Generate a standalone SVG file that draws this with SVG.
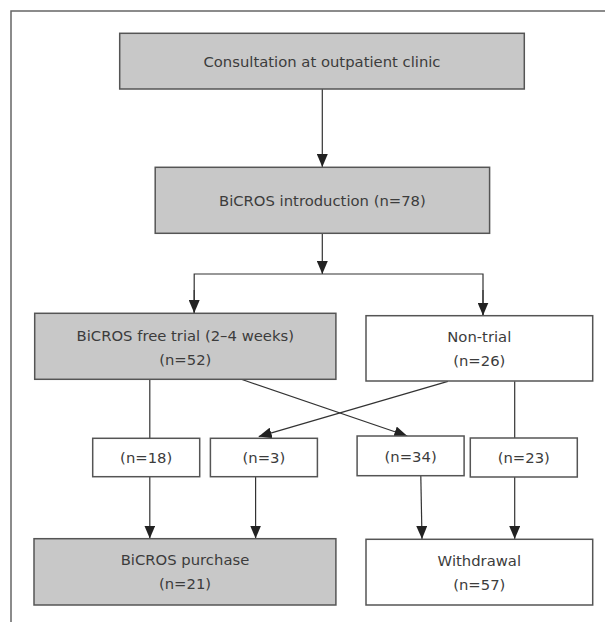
<svg xmlns="http://www.w3.org/2000/svg" width="605" height="622" viewBox="0 0 605 622">
<style>
.box{stroke:#555;stroke-width:1.5}
.g{fill:#c8c8c8}
.w{fill:#fff}
text{font-family:"DejaVu Sans",sans-serif;font-size:14.8px;fill:#3c3c3c;text-anchor:middle}
.c{stroke:#333;stroke-width:1.2;fill:none}
.frame{stroke:#666;stroke-width:1.5;fill:none}
</style>
<defs>
<marker id="ah" viewBox="0 0 13 11" markerUnits="userSpaceOnUse" markerWidth="13" markerHeight="11" refX="13" refY="5.5" orient="auto">
<path d="M0,0 L13,5.5 L0,11 z" fill="#222"/>
</marker>
</defs>
<rect width="605" height="622" fill="#fff"/>
<path class="frame" d="M11,622 V11 H605"/>
<g id="connectors">
<line class="c" x1="322.3" y1="89" x2="322.3" y2="167" marker-end="url(#ah)"/>
<line class="c" x1="322.3" y1="233.5" x2="322.3" y2="274" marker-end="url(#ah)"/>
<path class="c" d="M194.2,313 V274 H483 V315.5"/>
<line class="c" x1="194.2" y1="290" x2="194.2" y2="313" marker-end="url(#ah)"/>
<line class="c" x1="483" y1="290" x2="483" y2="315.5" marker-end="url(#ah)"/>
<line class="c" x1="149.8" y1="379.5" x2="149.8" y2="438.3"/>
<line class="c" x1="242" y1="379.5" x2="407.3" y2="436" marker-end="url(#ah)"/>
<line class="c" x1="447.9" y1="381.3" x2="258.7" y2="436.6" marker-end="url(#ah)"/>
<line class="c" x1="514.7" y1="381.3" x2="514.7" y2="438"/>
<line class="c" x1="149.8" y1="476.7" x2="149.8" y2="538.5" marker-end="url(#ah)"/>
<line class="c" x1="255.6" y1="476.7" x2="255.6" y2="538.5" marker-end="url(#ah)"/>
<line class="c" x1="420.8" y1="475.7" x2="422" y2="539" marker-end="url(#ah)"/>
<line class="c" x1="514.7" y1="477" x2="514.7" y2="539" marker-end="url(#ah)"/>
</g>
<g id="consultation">
<rect class="box g" x="119.7" y="33.3" width="404.6" height="55.7"/>
<text x="322" y="66.5">Consultation at outpatient clinic</text>
</g>
<g id="introduction">
<rect class="box g" x="155.2" y="167.3" width="334.4" height="66"/>
<text x="322.4" y="205.7">BiCROS introduction (n=78)</text>
</g>
<g id="trial">
<rect class="box g" x="34.7" y="313.3" width="301.2" height="66"/>
<text x="185.3" y="341.3">BiCROS free trial (2–4 weeks)</text>
<text x="185.3" y="365.3">(n=52)</text>
</g>
<g id="nontrial">
<rect class="box w" x="366" y="315.7" width="226.7" height="65.3"/>
<text x="479.3" y="342">Non-trial</text>
<text x="479.3" y="366">(n=26)</text>
</g>
<g id="n18">
<rect class="box w" x="92.7" y="438.3" width="107" height="38.4"/>
<text x="146.2" y="462.5">(n=18)</text>
</g>
<g id="n3">
<rect class="box w" x="210.4" y="438.3" width="107" height="38.4"/>
<text x="263.9" y="462.5">(n=3)</text>
</g>
<g id="n34">
<rect class="box w" x="357.1" y="436" width="107" height="39.7"/>
<text x="410.6" y="461.5">(n=34)</text>
</g>
<g id="n23">
<rect class="box w" x="470.3" y="438" width="107" height="39"/>
<text x="523.8" y="462.5">(n=23)</text>
</g>
<g id="purchase">
<rect class="box g" x="34" y="538.7" width="301.9" height="66.3"/>
<text x="185" y="565">BiCROS purchase</text>
<text x="185" y="589">(n=21)</text>
</g>
<g id="withdrawal">
<rect class="box w" x="366" y="539.3" width="226.7" height="65.7"/>
<text x="479.3" y="565.5">Withdrawal</text>
<text x="479.3" y="589.5">(n=57)</text>
</g>
</svg>
